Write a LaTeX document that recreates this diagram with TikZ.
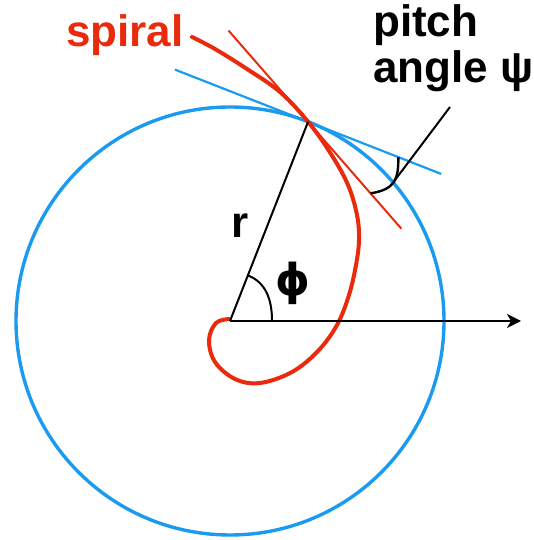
\documentclass[tikz,border=0pt]{standalone}
\usepackage{fontspec}
\setmainfont{Liberation Sans}
\newfontfamily\greekfont{DejaVu Sans}
\usetikzlibrary{arrows.meta,calc}
\definecolor{spiralcol}{HTML}{EA2A0C}
\definecolor{circlecol}{HTML}{1A9BF0}

\begin{document}
\begin{tikzpicture}[x=1pt,y=1pt,font=\bfseries\fontsize{44}{46}\selectfont]
\useasboundingbox (0,0) rectangle (533,540);
\coordinate (centre) at (230,219);
\coordinate (touch) at ($(centre)+(68.6:214)$);
% circle and its tangent
\draw[circlecol,line width=3.4pt] (centre) circle[radius=214];
\coordinate (btan1) at ($(touch)+(158.6:143)$);
\coordinate (btan2) at ($(touch)+(-21.4:143)$);
\draw[circlecol,line width=2.2pt] (btan1) -- (btan2);
% spiral and its tangent
\draw[spiralcol,line width=4pt,line cap=round] plot[smooth,tension=0.6] coordinates {
	(229,221) (216,217) (209,200) (215,178) (235,161) (260,157) (292,168)
	(318,189) (337,215) (349,245) (356,275) (359,300) (357,325) (348,355)
	(331,386) (touch) (280,448) (247,471) (215,491) (192,503)};
\coordinate (rtan1) at ($(touch)+(131.1:121)$);
\coordinate (rtan2) at ($(touch)+(-48.9:142)$);
\draw[spiralcol,line width=2pt] (rtan1) -- (rtan2);
% radius and axis
\coordinate (axisend) at (521,219);
\draw[line width=2pt] (centre) -- (touch);
\draw[line width=2pt,-{Stealth[length=14pt,width=14pt,inset=4pt]}] (centre) -- (axisend);
% angle phi
\coordinate (phia) at ($(centre)+(0:42)$);
\coordinate (phib) at ($(centre)+(68.6:49)$);
\draw[line width=2pt] (phia) to[out=90,in=-21.4] (phib);
% pitch angle
\coordinate (pitcha) at ($(touch)+(-48.9:95)$);
\coordinate (pitchb) at ($(touch)+(-21.4:97)$);
\coordinate (leadtop) at (450,433);
\draw[line width=2.4pt] (pitcha) .. controls +(25,4) and +(0,-22) .. (pitchb) coordinate[pos=0.55] (bend);
\draw[line width=2pt] (bend) -- (leadtop);
% labels
\node[spiralcol,anchor=base west,inner sep=0] (spirallabel) at (66,493) {spiral};
\node[anchor=base west,inner sep=0,align=left] (pitchlabel) at (373,457) {pitch\\angle ψ};
\node (rlabel) at (240,314) {r};
\node (philabel) at (293,257) {\greekfont ϕ};
\end{tikzpicture}
\end{document}
